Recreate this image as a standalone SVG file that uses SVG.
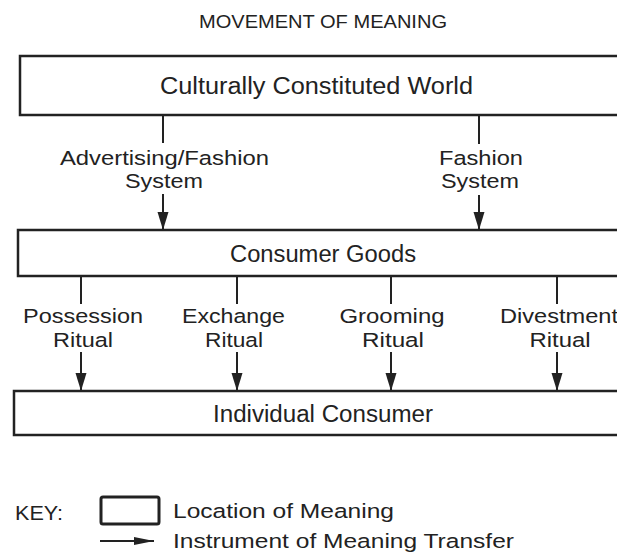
<svg xmlns="http://www.w3.org/2000/svg" width="617" height="553" viewBox="0 0 617 553">
<style>
text{font-family:"Liberation Sans",Arial,sans-serif;fill:#222;text-anchor:middle}
.box{fill:#fff;stroke:#222;stroke-width:2.5}
.lbl{font-size:20.5px}
.big{font-size:23px}
.line{stroke:#222;stroke-width:2;fill:none}
.arr{stroke:#222;stroke-width:2;fill:none;marker-end:url(#ah)}
</style>
<defs>
<marker id="ah" markerUnits="userSpaceOnUse" markerWidth="18" markerHeight="12" refX="18" refY="6" orient="auto">
<path d="M0,0.5 L18,6 L0,11.5 z" fill="#222"/>
</marker>
<marker id="ahk" markerUnits="userSpaceOnUse" markerWidth="20" markerHeight="10" refX="20" refY="5" orient="auto">
<path d="M0,1 L20,5 L0,9 z" fill="#222"/>
</marker>
</defs>
<rect width="617" height="553" fill="#fff"/>
<text id="title" x="323" y="28" style="font-size:17.5px" textLength="248" lengthAdjust="spacingAndGlyphs">MOVEMENT OF MEANING</text>

<g id="connectors">
<line class="line" x1="163" y1="115" x2="163" y2="143"/>
<line class="arr" x1="163" y1="194" x2="163" y2="230"/>
<line class="line" x1="479" y1="115" x2="479" y2="144"/>
<line class="arr" x1="479" y1="195" x2="479" y2="230"/>
<line class="line" x1="81" y1="276" x2="81" y2="304"/>
<line class="arr" x1="81" y1="352" x2="81" y2="391"/>
<line class="line" x1="237" y1="276" x2="237" y2="304"/>
<line class="arr" x1="237" y1="352" x2="237" y2="391"/>
<line class="line" x1="391" y1="276" x2="391" y2="304"/>
<line class="arr" x1="391" y1="352" x2="391" y2="391"/>
<line class="line" x1="557" y1="276" x2="557" y2="304"/>
<line class="arr" x1="557" y1="352" x2="557" y2="391"/>
<text class="lbl" x="164.5" y="164.5" textLength="209" lengthAdjust="spacingAndGlyphs">Advertising/Fashion</text>
<text class="lbl" x="164" y="187.5" textLength="78" lengthAdjust="spacingAndGlyphs">System</text>
<text class="lbl" x="481" y="164.5" textLength="84" lengthAdjust="spacingAndGlyphs">Fashion</text>
<text class="lbl" x="480" y="187.5" textLength="78" lengthAdjust="spacingAndGlyphs">System</text>
<text class="lbl" x="83" y="322.5" textLength="120" lengthAdjust="spacingAndGlyphs">Possession</text>
<text class="lbl" x="83" y="347" textLength="60" lengthAdjust="spacingAndGlyphs">Ritual</text>
<text class="lbl" x="233.5" y="322.5" textLength="103" lengthAdjust="spacingAndGlyphs">Exchange</text>
<text class="lbl" x="234" y="347" textLength="58" lengthAdjust="spacingAndGlyphs">Ritual</text>
<text class="lbl" x="392" y="322.5" textLength="105" lengthAdjust="spacingAndGlyphs">Grooming</text>
<text class="lbl" x="393" y="347" textLength="62" lengthAdjust="spacingAndGlyphs">Ritual</text>
<text class="lbl" x="500" y="322.5" style="text-anchor:start" textLength="118" lengthAdjust="spacingAndGlyphs">Divestment</text>
<text class="lbl" x="560" y="347" textLength="61" lengthAdjust="spacingAndGlyphs">Ritual</text>
</g>

<g id="world">
<rect class="box" x="20" y="56" width="640" height="59"/>
<text class="big" x="316.5" y="94" textLength="313" lengthAdjust="spacingAndGlyphs">Culturally Constituted  World</text>
</g>
<g id="goods">
<rect class="box" x="18" y="230" width="640" height="46"/>
<text class="big" x="323" y="261.5" textLength="186" lengthAdjust="spacingAndGlyphs">Consumer Goods</text>
</g>
<g id="consumer">
<rect class="box" x="14" y="391" width="640" height="44"/>
<text class="big" x="323" y="421.5" textLength="220" lengthAdjust="spacingAndGlyphs">Individual Consumer</text>
</g>

<g id="key">
<text class="lbl" x="15" y="520" style="text-anchor:start" textLength="48" lengthAdjust="spacingAndGlyphs">KEY:</text>
<rect x="101" y="497" width="58" height="27" rx="2" fill="#fff" stroke="#222" stroke-width="3"/>
<text class="lbl" x="173" y="518" style="text-anchor:start" textLength="221" lengthAdjust="spacingAndGlyphs">Location of Meaning</text>
<line x1="100" y1="541" x2="154" y2="541" stroke="#222" stroke-width="2" marker-end="url(#ahk)"/>
<text class="lbl" x="173" y="548" style="text-anchor:start" textLength="341" lengthAdjust="spacingAndGlyphs">Instrument of Meaning Transfer</text>
</g>
</svg>
